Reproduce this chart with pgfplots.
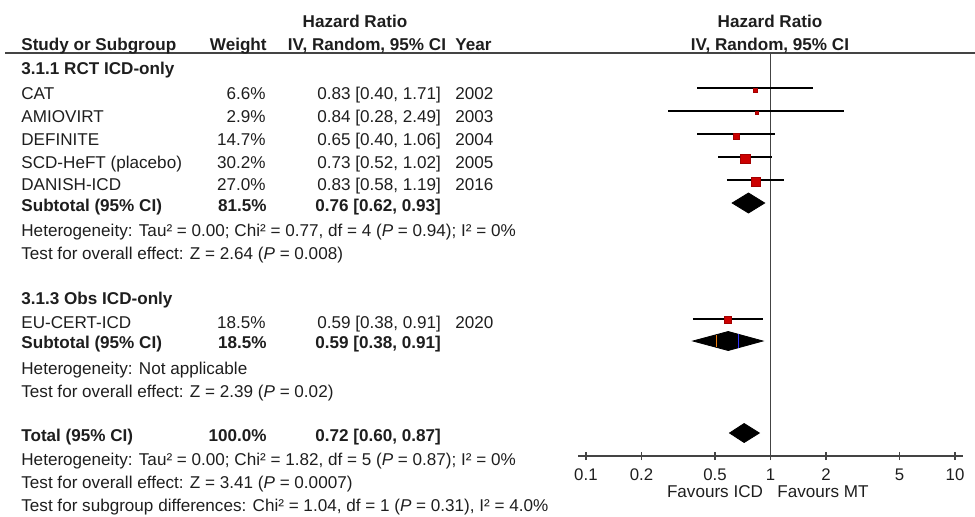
\documentclass[border=0pt]{standalone}
\usepackage{pgfplots}
\pgfplotsset{compat=1.18}
\usepackage{fontspec}
\setmainfont{Liberation Sans}
\definecolor{txt}{HTML}{1E1E1E}
\definecolor{rl}{HTML}{444444}
\definecolor{sq}{HTML}{CC0000}
\begin{document}
\begin{tikzpicture}[x=0.5pt,y=-0.5pt,font=\fontsize{8.55}{10}\selectfont,every node/.style={inner sep=0pt,text=txt}]
\path[use as bounding box] (0,0) rectangle (975,516);
% header line
\draw[rl,line width=1pt] (5,53) -- (975,53);
% headers
\node[anchor=base,font=\fontsize{8.55}{10}\bfseries] at (355,27) {Hazard Ratio};
\node[anchor=base west,font=\fontsize{8.55}{10}\bfseries] at (21,50) {Study or Subgroup};
\node[anchor=base east,font=\fontsize{8.55}{10}\bfseries] at (267,50) {Weight};
\node[anchor=base,font=\fontsize{8.55}{10}\bfseries] at (367,50) {IV, Random, 95\% CI};
\node[anchor=base west,font=\fontsize{8.55}{10}\bfseries] at (455,50) {Year};
\node[anchor=base,font=\fontsize{8.55}{10}\bfseries] at (770,27) {Hazard Ratio};
\node[anchor=base,font=\fontsize{8.55}{10}\bfseries] at (770,50) {IV, Random, 95\% CI};
% group 1
\node[anchor=base west,font=\fontsize{8.55}{10}\bfseries] at (21,74) {3.1.1 RCT ICD-only};
\foreach \n/\w/\c/\yr/\b in {CAT/6.6\%/{0.83 [0.40, 1.71]}/2002/99,
  AMIOVIRT/2.9\%/{0.84 [0.28, 2.49]}/2003/122,
  DEFINITE/14.7\%/{0.65 [0.40, 1.06]}/2004/145,
  SCD-HeFT (placebo)/30.2\%/{0.73 [0.52, 1.02]}/2005/168,
  DANISH-ICD/27.0\%/{0.83 [0.58, 1.19]}/2016/190,
  EU-CERT-ICD/18.5\%/{0.59 [0.38, 0.91]}/2020/328}{
  \node[anchor=base west] at (21,\b) {\n};
  \node[anchor=base east] at (266,\b) {\w};
  \node[anchor=base west] at (317,\b) {\c};
  \node[anchor=base west] at (455,\b) {\yr};
}
\node[anchor=base west,font=\fontsize{8.55}{10}\bfseries] at (21,211) {Subtotal (95\% CI)};
\node[anchor=base east,font=\fontsize{8.55}{10}\bfseries] at (267,211) {81.5\%};
\node[anchor=base west,font=\fontsize{8.55}{10}\bfseries] at (315,211) {0.76 [0.62, 0.93]};
\node[anchor=base west] at (21,236) {Heterogeneity: Tau² = 0.00; Chi² = 0.77, df = 4 (\textit{P} = 0.94); I² = 0\%};
\node[anchor=base west] at (21,259) {Test for overall effect: Z = 2.64 (\textit{P} = 0.008)};
% group 2
\node[anchor=base west,font=\fontsize{8.55}{10}\bfseries] at (21,304) {3.1.3 Obs ICD-only};
\node[anchor=base west,font=\fontsize{8.55}{10}\bfseries] at (21,348) {Subtotal (95\% CI)};
\node[anchor=base east,font=\fontsize{8.55}{10}\bfseries] at (267,348) {18.5\%};
\node[anchor=base west,font=\fontsize{8.55}{10}\bfseries] at (315,348) {0.59 [0.38, 0.91]};
\node[anchor=base west] at (21,374) {Heterogeneity: Not applicable};
\node[anchor=base west] at (21,397) {Test for overall effect: Z = 2.39 (\textit{P} = 0.02)};
% total
\node[anchor=base west,font=\fontsize{8.55}{10}\bfseries] at (21,441) {Total (95\% CI)};
\node[anchor=base east,font=\fontsize{8.55}{10}\bfseries] at (267,441) {100.0\%};
\node[anchor=base west,font=\fontsize{8.55}{10}\bfseries] at (315,441) {0.72 [0.60, 0.87]};
\node[anchor=base west] at (21,465) {Heterogeneity: Tau² = 0.00; Chi² = 1.82, df = 5 (\textit{P} = 0.87); I² = 0\%};
\node[anchor=base west] at (21,488) {Test for overall effect: Z = 3.41 (\textit{P} = 0.0007)};
\node[anchor=base west] at (21,511) {Test for subgroup differences: Chi² = 1.04, df = 1 (\textit{P} = 0.31), I² = 4.0\%};
\node[anchor=base] at (715,497) {Favours ICD};
\node[anchor=base] at (823,497) {Favours MT};
% forest plot axis
\begin{axis}[at={(289pt,-228pt)},anchor=south west,scale only axis,
  width=192.5pt,height=201.5pt,xmode=log,xmin=0.0906,xmax=11.04,ymin=-456,ymax=-53,
  axis y line=none,axis x line*=bottom,x axis line style={-,rl,line width=1pt},
  xtick={0.1,0.2,0.5,1,2,5,10},xticklabels={0.1,0.2,0.5,1,2,5,10},
  tick align=center,major tick length=4pt,tick style={rl,line width=0.8pt},
  xticklabel style={anchor=base,yshift=-10pt,font=\fontsize{8.4}{10}\selectfont,text=txt},
  clip=false]
\addplot[rl,line width=0.75pt] coordinates {(1,-53) (1,-456)};
% CIs
\addplot[black,line width=0.7pt] coordinates {(0.40,-88) (1.71,-88)};
\addplot[black,line width=0.7pt] coordinates {(0.28,-111) (2.49,-111)};
\addplot[black,line width=0.7pt] coordinates {(0.40,-134) (1.06,-134)};
\addplot[black,line width=0.7pt] coordinates {(0.52,-157) (1.02,-157)};
\addplot[black,line width=0.7pt] coordinates {(0.58,-180) (1.19,-180)};
\addplot[black,line width=0.7pt] coordinates {(0.38,-319) (0.91,-319)};
% squares
\addplot[only marks,mark=square*,mark size=1.0pt,sq,mark options={draw=sq!80!black,line width=0.2pt}] coordinates {(0.83,-90)};
\addplot[only marks,mark=square*,mark size=0.75pt,sq,mark options={draw=sq!80!black,line width=0.2pt}] coordinates {(0.84,-113)};
\addplot[only marks,mark=square*,mark size=1.5pt,sq,mark options={draw=sq!80!black,line width=0.2pt}] coordinates {(0.65,-136)};
\addplot[only marks,mark=square*,mark size=2.3pt,sq,mark options={draw=sq!80!black,line width=0.2pt}] coordinates {(0.73,-159)};
\addplot[only marks,mark=square*,mark size=2.25pt,sq,mark options={draw=sq!80!black,line width=0.2pt}] coordinates {(0.83,-182)};
\addplot[only marks,mark=square*,mark size=1.75pt,sq,mark options={draw=sq!80!black,line width=0.2pt}] coordinates {(0.59,-320)};
% diamonds
\addplot[fill=black,draw=black] coordinates {(0.62,-203) (0.76,-193) (0.93,-203) (0.76,-213)} -- cycle;
\addplot[fill=black,draw=black] coordinates {(0.38,-341) (0.59,-331.5) (0.91,-341) (0.59,-350.5)} -- cycle;
\addplot[fill=black,draw=black] coordinates {(0.60,-433) (0.72,-423.5) (0.87,-433) (0.72,-442.5)} -- cycle;
\addplot[orange!80!brown,line width=0.5pt] coordinates {(0.51,-335) (0.51,-347)};
\addplot[blue!80,line width=0.5pt] coordinates {(0.67,-334) (0.67,-348)};
\end{axis}
\end{tikzpicture}
\end{document}
